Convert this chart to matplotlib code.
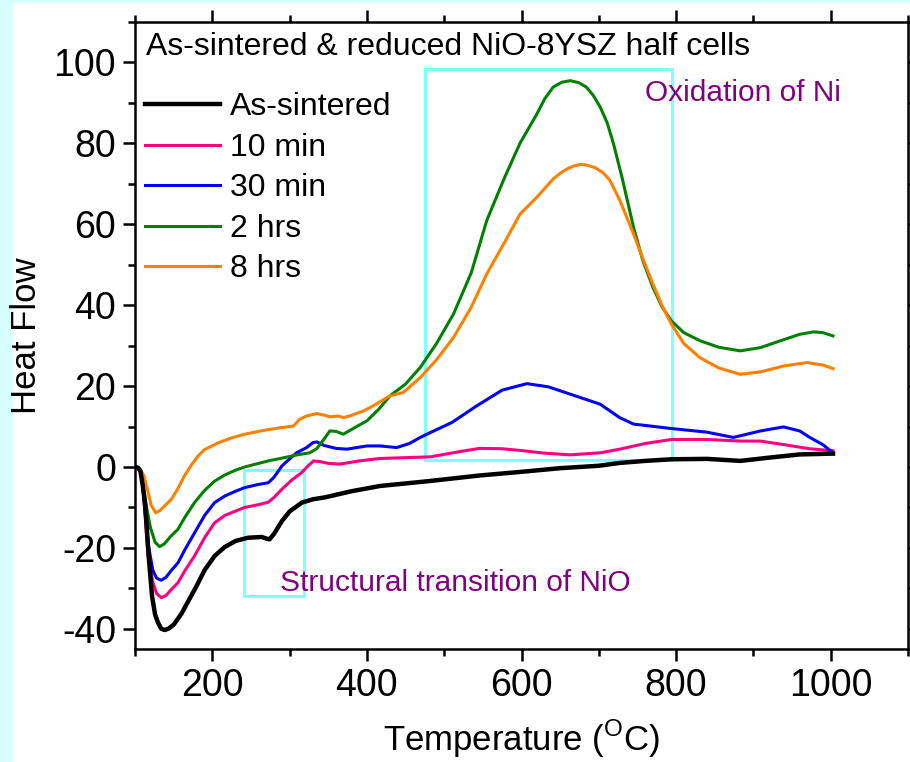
import matplotlib
matplotlib.use("Agg")
import matplotlib.pyplot as plt
from matplotlib.patches import Rectangle

plt.rcParams['font.family'] = ['Liberation Sans', 'DejaVu Sans']
plt.rcParams['axes.unicode_minus'] = False

# As-sintered
t_sint = [100, 104, 107, 110, 113.4, 117.7, 122, 126, 129.8, 134, 138.4, 143, 150, 160, 170,
          180, 190, 203, 216, 230, 246, 264, 270, 274, 280, 290, 300, 316, 330, 346, 380, 417,
          480, 546, 600, 650, 700, 727, 760, 794, 840, 883, 920, 960, 1003]
v_sint = [0, -0.2, -1, -4.5, -9.7, -22, -31.9, -36.5, -38.5, -40, -40.3, -40, -39, -36.3, -32.8,
          -29.3, -25.5, -22, -19.8, -18.3, -17.5, -17.3, -17.7, -17.9, -16.5, -13.4, -11,
          -8.8, -8, -7.5, -6, -4.7, -3.5, -2.1, -1.2, -0.3, 0.3, 1, 1.5, 1.9, 2, 1.5, 2.3, 3.1, 3.3]

# 10 min
t_10m = [100, 104, 107, 110, 113, 116.8, 123.3, 128, 134, 140, 146, 155.6, 165, 177, 190, 203,
         216, 230, 242, 260, 272.5, 280, 290, 303, 315.6, 324, 331, 340, 350, 365, 390, 417, 450,
         482, 520, 546, 575, 598, 630, 663, 702, 727, 760, 794, 840, 883, 909, 940, 973, 1003]
v_10m = [0, -0.2, -1, -4.5, -12, -22, -28.6, -31.3, -32.3, -31.8, -30.5, -28.6, -25.5, -22, -17.5,
         -13.8, -12, -10.9, -10, -9.3, -8.7, -7.5, -5.5, -3.2, -1.4, 0.3, 1.5, 1.3, 0.9, 0.7, 1.5,
         2.1, 2.3, 2.5, 3.8, 4.6, 4.5, 4.1, 3.4, 3.0, 3.5, 4.4, 5.8, 6.8, 6.8, 6.4, 6.4, 5.5, 4.5,
         4.0]

# 30 min
t_30m = [100, 104, 107, 110, 113, 117, 123, 128, 134, 140, 146, 155.6, 165, 177, 190, 203, 216,
         230, 242, 260, 272.5, 280, 290, 300, 309, 322, 330, 335, 345, 360, 374, 400, 417, 438.5,
         455, 469, 482, 510, 542, 575, 607, 635, 663, 702, 727, 745, 794, 840, 874, 909, 939, 960,
         973, 990, 1003]
v_30m = [0, -0.2, -1, -4.5, -11, -19, -25.5, -27.5, -28, -27.3, -25.8, -23.7, -20.3, -16.3, -12,
         -8.8, -7.2, -6, -5.1, -4.3, -3.9, -2.5, 0.25, 2, 3.5, 4.8, 6, 6.2, 5.3, 4.6, 4.4, 5.2,
         5.2, 4.8, 5.8, 7.3, 8.5, 11, 15.1, 19, 20.6, 19.8, 18, 15.5, 12.2, 10.6, 9.5, 8.6, 7.3,
         8.9, 9.9, 8.9, 7.3, 5.5, 3.5]

# 2 hrs
t_2h = [100, 104, 107, 110, 114.7, 120, 126, 131.8, 138, 146, 155.6, 165, 177, 190, 203, 216,
        230, 242, 258, 272.5, 288, 310, 326, 335, 345, 352, 360, 369.5, 385, 400, 415, 430, 450,
        469, 490, 512, 535, 555, 578, 598, 620, 630, 641, 652, 663, 674, 684, 693, 702, 711, 719,
        730, 745, 757, 770, 782, 794, 810, 831, 855, 883, 909, 935, 960, 978, 990, 1003]
v_2h = [0, -0.2, -1, -4, -9.7, -15, -18.6, -19.7, -19, -17.2, -15.4, -12.3, -8.8, -5.8, -3.5, -2,
        -0.8, 0, 0.8, 1.5, 2.1, 3, 3.5, 4.5, 7, 8.9, 8.8, 8.1, 9.8, 11.4, 14.2, 17.6, 20.5, 24.6,
        30.5, 37.8, 48, 60.9, 71.5, 80, 87.3, 91, 93.9, 95.1, 95.5, 95, 93.9, 91.8, 88.9, 85,
        79.9, 71.6, 59.2, 51, 44.4, 39.5, 36.1, 33.2, 31.2, 29.6, 28.7, 29.5, 31.2, 32.8, 33.4,
        33.2, 32.4]

# 8 hrs
t_8h = [100, 104, 107, 111.6, 116, 121, 126.8, 132, 140, 147, 155, 164, 173, 181.5, 190, 208, 225,
        242, 265, 288, 305, 313, 322, 335, 345, 352, 363, 370, 382, 395, 408, 430, 447, 469, 490,
        512, 535, 555, 578, 598, 620, 641, 650, 660, 668, 676, 685, 695, 705, 714, 727, 745, 758,
        770, 782, 794, 810, 831, 855, 883, 909, 940, 969, 990, 1003]
v_8h = [0, -0.2, -0.6, -2.2, -5.5, -9.5, -11.3, -10.8, -9.3, -8, -5.5, -2.2, 0.5, 2.7, 4.3, 6,
        7.2, 8.1, 9, 9.7, 10.1, 11.8, 12.6, 13.2, 12.8, 12.4, 12.6, 12.2, 12.9, 13.8, 15.1, 17.6,
        18.4, 22.1, 26.5, 32, 39.5, 47.7, 55.5, 62.5, 66.7, 71.2, 72.6, 73.8, 74.4, 74.8, 74.6,
        74, 72.8, 71, 66, 57.6, 51, 45.2, 39.8, 35.3, 30.5, 27, 24.5, 22.9, 23.5, 25, 25.8, 25.2,
        24.3]

fig = plt.figure(figsize=(9.1, 7.62), dpi=100, facecolor='#D6FFFF')
fig.patches.append(Rectangle((13 / 910, 0), 1, 1 - 3 / 762, transform=fig.transFigure,
                             facecolor='white', edgecolor='none', zorder=-10))
ax = fig.add_axes([135 / 910, 113 / 762, 773 / 910, 627 / 762])

ax.plot(t_sint, v_sint, color='black', lw=3.2, label='As-sintered', zorder=5)
ax.plot(t_10m, v_10m, color='#FF0080', lw=2.2, label='10 min')
ax.plot(t_30m, v_30m, color='#0000FF', lw=2.2, label='30 min')
ax.plot(t_2h, v_2h, color='#008000', lw=2.2, label='2 hrs')
ax.plot(t_8h, v_8h, color='#FF8000', lw=2.2, label='8 hrs')

# highlighted regions
ax.add_patch(Rectangle((475, 1.8), 320, 96.5, fill=False, edgecolor='#80FFFF', lw=2.2))
ax.add_patch(Rectangle((241, -32), 78, 31.3, fill=False, edgecolor='#80FFFF', lw=2.2))
ax.text(760, 92.5, 'Oxidation of Ni', color='#800080', fontsize=21.5, va='center')
ax.text(287, -28.7, 'Structural transition of NiO', color='#800080', fontsize=21.5, va='center')

ax.text(114, 103.7, 'As-sintered & reduced NiO-8YSZ half cells', fontsize=23, va='center')

leg = ax.legend(loc='upper left', bbox_to_anchor=(0.013, 0.888), frameon=False, fontsize=23,
                handlelength=2.35, handletextpad=0.3, labelspacing=0.33, borderpad=0,
                borderaxespad=0)

ax.set_xlim(100, 1100)
ax.set_ylim(-45, 110)
ax.set_xticks([200, 400, 600, 800, 1000])
ax.set_xticks(range(100, 1101, 100), minor=True)
ax.set_yticks(range(-40, 101, 20))
ax.set_yticks(range(-40, 111, 10), minor=True)
ax.tick_params(which='both', direction='out', width=1.8, top=True, right=True, labelsize=27)
ax.tick_params(which='major', length=8.5, pad=5)
ax.tick_params(which='minor', length=5)
for s in ax.spines.values():
    s.set_linewidth(1.8)

ax.set_xlabel('Temperature ($^\\mathregular{O}$C)', fontsize=25, labelpad=10)
ax.set_ylabel('Heat Flow', fontsize=25, labelpad=8)

fig.savefig('out.png', dpi=100, facecolor=fig.get_facecolor())
